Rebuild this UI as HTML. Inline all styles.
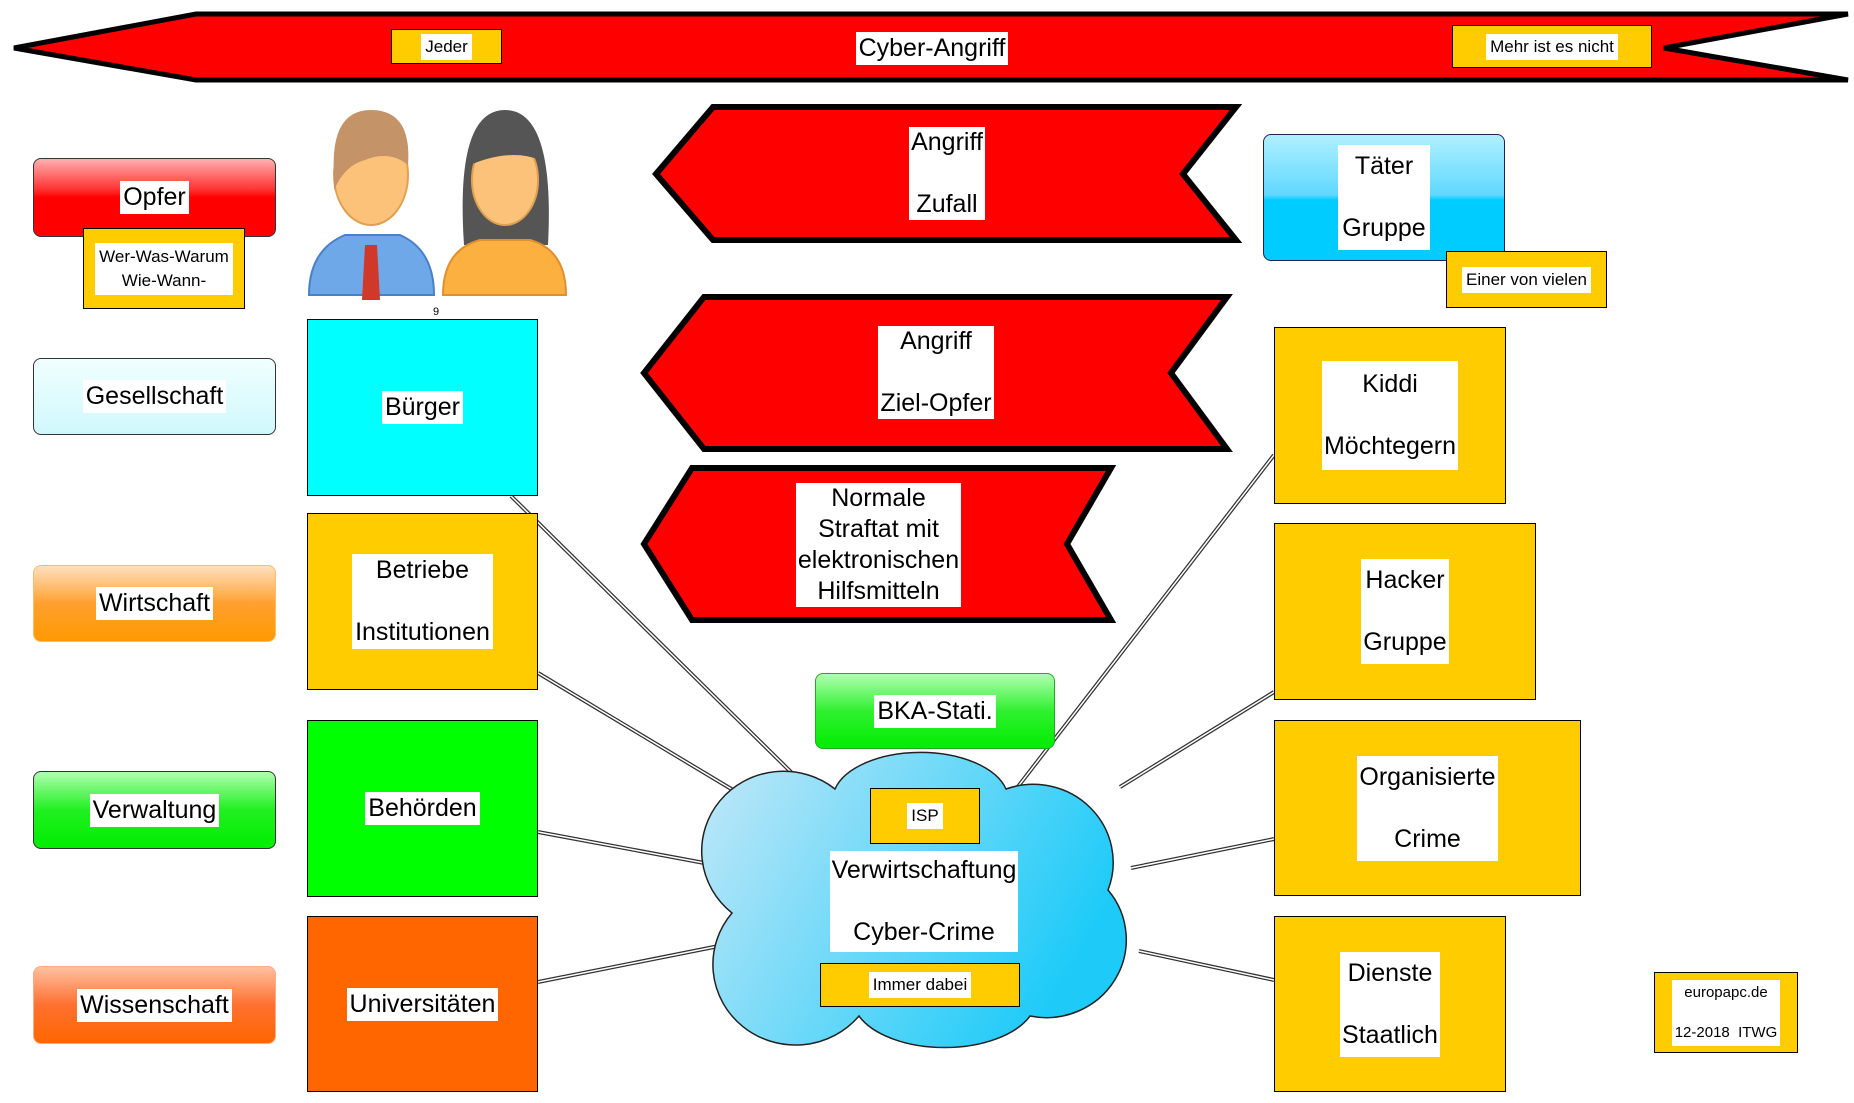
<!DOCTYPE html>
<html><head><meta charset="utf-8">
<style>
body{margin:0;width:1854px;height:1103px;background:#fff;position:relative;overflow:hidden;font-family:"Liberation Sans",sans-serif;}
.a{position:absolute;box-sizing:border-box;display:flex;align-items:center;justify-content:center;}
.b{border:1.5px solid #000;}
.l{background:#fff;color:#000;text-align:center;font-size:25px;line-height:31px;padding:1px 3px;white-space:nowrap;}
.s{background:#fff;font-size:17px;line-height:22px;padding:2px 4px;text-align:center;white-space:nowrap;}
.y{background:#ffcc00;}
.rb{border-radius:8px;border:1.5px solid #333;}
</style></head><body>
<svg width="1854" height="1103" style="position:absolute;left:0;top:0">
<defs>
<linearGradient id="cg" x1="0" y1="0" x2="1" y2="0.4"><stop offset="0" stop-color="#c4e8f8"/><stop offset="1" stop-color="#1ecbf8"/></linearGradient>
</defs>
<polygon points="14,48 196,14 1848,14 1664,48 1848,80 196,80" fill="#ff0000" stroke="#000" stroke-width="5" stroke-linejoin="miter"/>
<polygon points="656,174 713,107 1236,107 1183,174 1236,240 713,240" fill="#ff0000" stroke="#000" stroke-width="6"/>
<polygon points="644,373 704,297 1227,297 1171,373 1227,449 704,449" fill="#ff0000" stroke="#000" stroke-width="6"/>
<polygon points="644,544 692,468 1111,468 1067,544 1111,620 692,620" fill="#ff0000" stroke="#000" stroke-width="6"/>
<g stroke="#333" stroke-width="4" fill="none">
<line x1="511" y1="496" x2="794" y2="775"/><line x1="538" y1="673" x2="733" y2="790"/>
<line x1="538" y1="832" x2="715" y2="865"/><line x1="538" y1="982" x2="719" y2="946"/>
<line x1="1274" y1="455" x2="1013" y2="793"/><line x1="1274" y1="692" x2="1120" y2="787"/>
<line x1="1274" y1="839" x2="1131" y2="868"/><line x1="1274" y1="980" x2="1139" y2="951"/>
</g>
<g stroke="#fff" stroke-width="1.5" fill="none">
<line x1="511" y1="496" x2="794" y2="775"/><line x1="538" y1="673" x2="733" y2="790"/>
<line x1="538" y1="832" x2="715" y2="865"/><line x1="538" y1="982" x2="719" y2="946"/>
<line x1="1274" y1="455" x2="1013" y2="793"/><line x1="1274" y1="692" x2="1120" y2="787"/>
<line x1="1274" y1="839" x2="1131" y2="868"/><line x1="1274" y1="980" x2="1139" y2="951"/>
</g>
<path d="M835 789 A88 48 0 0 1 1006 789 A80 78 0 0 1 1108 890 A80 78 0 0 1 1030 1016 A92 50 0 0 1 859 1016 A80 78 0 0 1 732 913 A80 78 0 0 1 835 789 Z" fill="url(#cg)" stroke="#222" stroke-width="1.5"/>
<g>
<path d="M309 295 Q309 250 345 235 L400 235 Q434 250 434 295 Z" fill="#6fa8e8" stroke="#4a80c8" stroke-width="2"/>
<path d="M365 245 L377 245 L380 300 L362 300 Z" fill="#d0382a"/>
<ellipse cx="371" cy="175" rx="37" ry="50" fill="#fcc27a" stroke="#e0a050" stroke-width="2"/>
<path d="M334 175 Q330 110 371 110 Q412 110 408 165 Q390 150 365 160 Q345 165 334 190 Z" fill="#c49468"/>
</g>
<g>
<path d="M464 245 Q455 110 505 110 Q555 110 548 245 Z" fill="#555"/>
<path d="M443 295 Q443 250 480 240 L530 240 Q566 250 566 295 Z" fill="#fbb040" stroke="#e09030" stroke-width="2"/>
<ellipse cx="505" cy="180" rx="33" ry="45" fill="#fcc27a" stroke="#e0a050" stroke-width="2"/>
<path d="M470 165 Q475 125 505 125 Q535 125 540 160 Q510 148 470 165 Z" fill="#555"/>
</g>
</svg>

<div class="a" style="left:391px;top:29px;width:111px;height:35px;background:#ffcc00;border:1px solid #000"><span class="s">Jeder</span></div>
<div class="a" style="left:850px;top:29px;width:164px;height:38px"><span class="l">Cyber-Angriff</span></div>
<div class="a" style="left:1452px;top:25px;width:200px;height:43px;background:#ffcc00;border:1px solid #000"><span class="s">Mehr ist es nicht</span></div>

<div class="a rb" style="left:33px;top:158px;width:243px;height:79px;background:linear-gradient(#ffb0b0 0%,#ff3030 40%,#ff0000 50%,#ff0000 100%)"><span class="l">Opfer</span></div>
<div class="a b y" style="left:83px;top:228px;width:162px;height:81px"><span class="s" style="line-height:24px">Wer-Was-Warum<br>Wie-Wann-</span></div>
<div class="a rb" style="left:33px;top:358px;width:243px;height:77px;background:linear-gradient(#f0ffff,#d0f8fc)"><span class="l">Gesellschaft</span></div>
<div class="a rb" style="left:33px;top:565px;width:243px;height:77px;border-color:#ffbb66;background:linear-gradient(#ffe0c0 0%,#ffa030 50%,#ff9900 100%)"><span class="l">Wirtschaft</span></div>
<div class="a rb" style="left:33px;top:771px;width:243px;height:78px;background:linear-gradient(#b0ffb0 0%,#20f020 50%,#00ee00 100%)"><span class="l">Verwaltung</span></div>
<div class="a rb" style="left:33px;top:966px;width:243px;height:78px;border-color:#ffaa88;background:linear-gradient(#ffc0a0 0%,#ff7030 50%,#ff6600 100%)"><span class="l">Wissenschaft</span></div>

<div style="position:absolute;left:433px;top:306px;font-size:11px">9</div>
<div class="a b" style="left:307px;top:319px;width:231px;height:177px;background:#00ffff"><span class="l">Bürger</span></div>
<div class="a b y" style="left:307px;top:513px;width:231px;height:177px"><span class="l">Betriebe<br><br>Institutionen</span></div>
<div class="a b" style="left:307px;top:720px;width:231px;height:177px;background:#00ff00"><span class="l">Behörden</span></div>
<div class="a b" style="left:307px;top:916px;width:231px;height:176px;background:#ff6600"><span class="l">Universitäten</span></div>

<div class="a" style="left:909px;top:124px;width:76px;height:99px"><span class="l" style="padding:0 2px">Angriff<br><br>Zufall</span></div>
<div class="a" style="left:878px;top:323px;width:116px;height:99px"><span class="l" style="padding:0 2px">Angriff<br><br>Ziel-Opfer</span></div>
<div class="a" style="left:796px;top:482px;width:165px;height:126px"><span class="l" style="padding:0 2px">Normale<br>Straftat mit<br>elektronischen<br>Hilfsmitteln</span></div>

<div class="a rb" style="left:1263px;top:134px;width:242px;height:127px;border-color:#225;background:linear-gradient(#b0f0ff 0%,#60d8ff 48%,#00ccff 52%,#00ccff 100%)"><span class="l" style="padding:6px 4px">Täter<br><br>Gruppe</span></div>
<div class="a b y" style="left:1446px;top:251px;width:161px;height:57px"><span class="s">Einer von vielen</span></div>
<div class="a b y" style="left:1274px;top:327px;width:232px;height:177px"><span class="l" style="padding:8px 2px">Kiddi<br><br>Möchtegern</span></div>
<div class="a b y" style="left:1274px;top:523px;width:262px;height:177px"><span class="l" style="padding:6px 2px">Hacker<br><br>Gruppe</span></div>
<div class="a b y" style="left:1274px;top:720px;width:307px;height:176px"><span class="l" style="padding:6px 2px">Organisierte<br><br>Crime</span></div>
<div class="a b y" style="left:1274px;top:916px;width:232px;height:176px"><span class="l" style="padding:6px 2px">Dienste<br><br>Staatlich</span></div>
<div class="a b y" style="left:1654px;top:972px;width:144px;height:81px"><span class="s" style="font-size:15px;line-height:20px;padding:3px">europapc.de<br><br>12-2018&nbsp; ITWG</span></div>

<div class="a rb" style="left:815px;top:673px;width:240px;height:76px;border-color:#2a2;background:linear-gradient(#b0ffb0 0%,#30f030 50%,#00ee00 100%)"><span class="l">BKA-Stati.</span></div>
<div class="a b y" style="left:870px;top:788px;width:110px;height:56px"><span class="s">ISP</span></div>
<div class="a" style="left:825px;top:853px;width:198px;height:97px"><span class="l" style="padding:4px 2px">Verwirtschaftung<br><br>Cyber-Crime</span></div>
<div class="a b y" style="left:820px;top:963px;width:200px;height:44px"><span class="s">Immer dabei</span></div>
</body></html>
